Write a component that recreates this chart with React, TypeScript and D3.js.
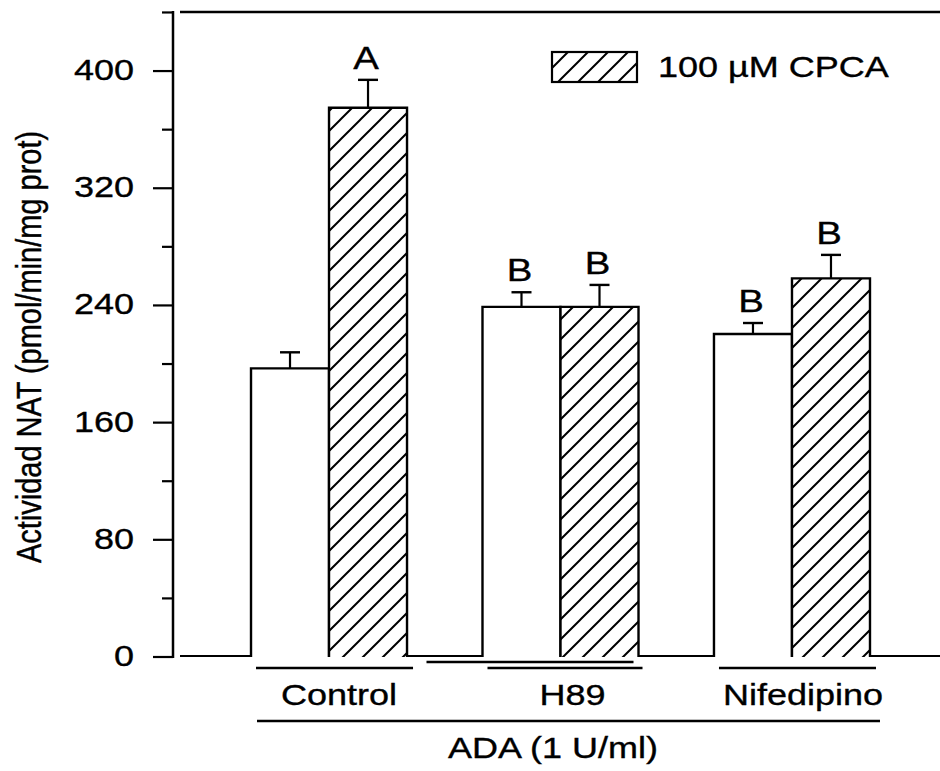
import { useEffect, useRef } from "react";
import * as d3 from "d3";

// chart values
const groups = ["Control", "H89", "Nifedipino"];
const series = ["ADA", "100 µM CPCA"];
const meanValues = [
  [197, 375],
  [239, 239],
  [220.5, 258.5],
];
const errValues = [
  [11, 19],
  [10, 15],
  [7.5, 16],
];
const sigLetters = [
  ["", "A"],
  ["B", "B"],
  ["B", "B"],
];
const majorTicks = [0, 80, 160, 240, 320, 400];
const minorTicks = [40, 120, 200, 280, 360, 440];
const yLabel = "Actividad NAT (pmol/min/mg prot)";
const xLabel = "ADA (1 U/ml)";
const legendLabel = "100 µM CPCA";

const FONT = "'Liberation Sans', Arial, Helvetica, sans-serif";
const SX = 1.2; // the scan is a bit stretched horizontally

export default function App() {
  const d3Container = useRef(null);

  useEffect(() => {
    const container = d3.select(d3Container.current);
    container.select("svg").remove();

    const WIDTH = 940;
    const HEIGHT = 771;
    const AXIS_X = 173;
    const BASE_Y = 657;

    const svg = container
      .append("svg")
      .attr("width", WIDTH)
      .attr("height", HEIGHT)
      .style("display", "block")
      .style("background", "#fff");

    // hatch pattern
    const defs = svg.append("defs");
    const pat = defs
      .append("pattern")
      .attr("id", "hatch")
      .attr("patternUnits", "userSpaceOnUse")
      .attr("width", 20)
      .attr("height", 20);
    pat.append("rect").attr("width", 20).attr("height", 20).attr("fill", "#fff");
    pat
      .append("path")
      .attr("d", "M0,20 L20,0 M-5,5 L5,-5 M15,25 L25,15")
      .attr("stroke", "#000")
      .attr("stroke-width", 2);

    const yScale = d3.scaleLinear().domain([0, 441]).range([BASE_Y, 11]);

    const xScale = d3
      .scaleBand()
      .domain(groups)
      .range([AXIS_X, 948])
      .paddingInner(0.326)
      .paddingOuter(0.337);

    const xInner = d3
      .scaleBand()
      .domain(series)
      .range([0, xScale.bandwidth()]);

    const text = (
      x: number,
      y: number,
      str: string,
      size: number,
      anchor: string
    ) =>
      svg
        .append("text")
        .attr("transform", `translate(${x},${y}) scale(${SX},1)`)
        .attr("text-anchor", anchor)
        .attr("font-family", FONT)
        .attr("font-size", size)
        .attr("fill", "#000")
        .attr("stroke", "#000")
        .attr("stroke-width", 0.35)
        .text(str);

    // frame: left axis, top line, baseline
    svg
      .append("line")
      .attr("x1", AXIS_X)
      .attr("x2", AXIS_X)
      .attr("y1", yScale(441))
      .attr("y2", BASE_Y + 1)
      .attr("stroke", "#000")
      .attr("stroke-width", 2.5);
    svg
      .append("line")
      .attr("x1", 180)
      .attr("x2", WIDTH)
      .attr("y1", 12)
      .attr("y2", 12)
      .attr("stroke", "#000")
      .attr("stroke-width", 2.5);
    svg
      .append("line")
      .attr("x1", 180)
      .attr("x2", WIDTH)
      .attr("y1", BASE_Y - 1)
      .attr("y2", BASE_Y - 1)
      .attr("stroke", "#000")
      .attr("stroke-width", 2.2);

    // ticks
    majorTicks.forEach((t) => {
      svg
        .append("line")
        .attr("x1", AXIS_X - 20)
        .attr("x2", AXIS_X)
        .attr("y1", yScale(t))
        .attr("y2", yScale(t))
        .attr("stroke", "#000")
        .attr("stroke-width", 2.2);
      text(134, yScale(t) + 9, String(t), 30, "end");
    });
    minorTicks.forEach((t) => {
      svg
        .append("line")
        .attr("x1", AXIS_X - 11)
        .attr("x2", AXIS_X)
        .attr("y1", yScale(t))
        .attr("y2", yScale(t))
        .attr("stroke", "#000")
        .attr("stroke-width", 2.2);
    });

    // y label
    svg
      .append("text")
      .attr("transform", `translate(41,347) rotate(-90) scale(1,${SX})`)
      .attr("text-anchor", "middle")
      .attr("font-family", FONT)
      .attr("font-size", 29)
      .attr("stroke", "#000")
      .attr("stroke-width", 0.35)
      .text(yLabel);

    // bars, error bars, letters
    groups.forEach((g, gi) => {
      series.forEach((s, si) => {
        const v = meanValues[gi][si];
        const e = errValues[gi][si];
        const x0 = (xScale(g) as number) + (xInner(s) as number);
        const w = xInner.bandwidth();
        const cx = x0 + w / 2;
        svg
          .append("path")
          .attr(
            "d",
            `M${x0},${BASE_Y} V${yScale(v)} H${x0 + w} V${BASE_Y}`
          )
          .attr("fill", si === 1 ? "url(#hatch)" : "#fff")
          .attr("stroke", "#000")
          .attr("stroke-width", 2.4);
        svg
          .append("line")
          .attr("x1", cx)
          .attr("x2", cx)
          .attr("y1", yScale(v))
          .attr("y2", yScale(v + e))
          .attr("stroke", "#000")
          .attr("stroke-width", 2.2);
        svg
          .append("line")
          .attr("x1", cx - 10)
          .attr("x2", cx + 10)
          .attr("y1", yScale(v + e))
          .attr("y2", yScale(v + e))
          .attr("stroke", "#000")
          .attr("stroke-width", 2.4);
        if (sigLetters[gi][si]) {
          text(cx - 2, yScale(v + e) - 11, sigLetters[gi][si], 32, "middle");
        }
      });
    });

    // category underlines and labels
    const underline = (x1: number, x2: number, y: number, sw = 2.4) =>
      svg
        .append("line")
        .attr("x1", x1)
        .attr("x2", x2)
        .attr("y1", y)
        .attr("y2", y)
        .attr("stroke", "#000")
        .attr("stroke-width", sw);

    groups.forEach((g, gi) => {
      const x0 = xScale(g) as number;
      const x1 = x0 + xScale.bandwidth();
      if (gi === 1) {
        underline(x0 - 56, x1 - 5, 662);
        underline(x0 + 5, x1 + 4, 668);
      } else {
        underline(x0 + 5, x1 + 6, 668);
      }
      text((x0 + x1) / 2 + (gi === 0 ? 10 : gi === 1 ? 12 : 11), 705, g, 30, "middle");
    });

    const first = xScale(groups[0]) as number;
    const last = (xScale(groups[groups.length - 1]) as number) + xScale.bandwidth();
    underline(first + 6, last + 10, 721, 2.6);
    text(553, 758, xLabel, 30, "middle");

    // legend
    svg
      .append("rect")
      .attr("x", 552)
      .attr("y", 52)
      .attr("width", 85)
      .attr("height", 30)
      .attr("fill", "url(#hatch)")
      .attr("stroke", "#000")
      .attr("stroke-width", 2.2);
    text(658, 77, legendLabel, 30, "start");
  }, []);

  return (
    <div style={{ position: "absolute", left: 0, top: 0 }}>
      <div ref={d3Container}>{/* chart */}</div>
    </div>
  );
}
